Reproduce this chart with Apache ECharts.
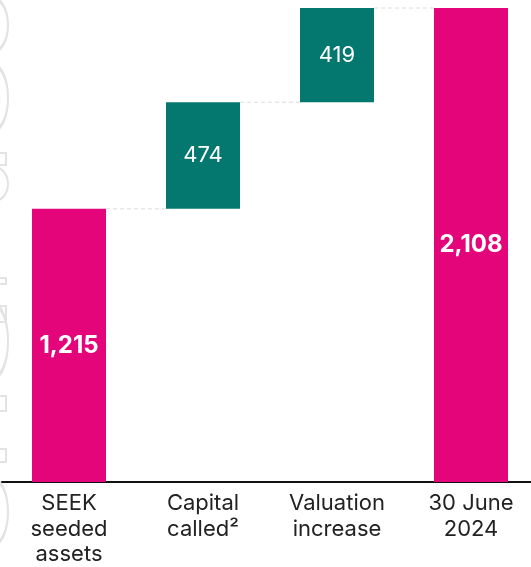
<!DOCTYPE html>
<html>
<head>
<meta charset="utf-8">
<script src="https://cdn.jsdelivr.net/npm/echarts@6/dist/echarts.min.js"></script>
<style>
  html, body { margin: 0; padding: 0; background: #fff; }
  #chart { width: 531px; height: 567px; }
</style>
</head>
<body>
<div id="chart"></div>
<script>
// data
const categories = ['SEEK\nseeded\nassets', 'Capital\ncalled²', 'Valuation\nincrease', '30 June\n2024'];
const values = [1215, 474, 419, 2108];
const kinds = ['total', 'delta', 'delta', 'total'];

const PINK = '#e5057b';
const TEAL = '#04776f';
const BAR_W = 74;

// work out the invisible base and the running level of each step
let running = 0;
const bases = [];
const levels = [];
values.forEach((v, i) => {
  if (kinds[i] === 'total') {
    bases.push(0);
    running = v;
  } else {
    bases.push(running);
    running += v;
  }
  levels.push(running);
});

const chart = echarts.init(document.getElementById('chart'));

// faint outline shapes on the left edge of the picture
function ghostRing(cy, ry) {
  return {
    type: 'circle', x: -6, y: cy, scaleX: 14 / ry,
    shape: { cx: 0, cy: 0, r: ry },
    style: { fill: 'none', stroke: '#e3e3e3', lineWidth: 2 * ry / 14 },
    silent: true, z: -1
  };
}
function ghostBox(y, h) {
  return {
    type: 'rect', x: -6, y: y,
    shape: { width: 12, height: h },
    style: { fill: 'none', stroke: '#e3e3e3', lineWidth: 2 },
    silent: true, z: -1
  };
}

const option = {
  animation: false,
  backgroundColor: '#fff',
  textStyle: { fontFamily: 'Inter' },
  graphic: [
    ghostRing(25, 26), ghostRing(98, 32), ghostRing(184, 17),
    ghostRing(341, 36), ghostRing(512, 32),
    ghostBox(153, 12), ghostBox(278, 6), ghostBox(306, 16),
    ghostBox(396, 15), ghostBox(449, 13)
  ],
  grid: { left: 2, width: 536, top: 8, bottom: 85, outerBoundsMode: 'none', containLabel: false },
  xAxis: {
    type: 'category',
    data: categories,
    axisLine: { lineStyle: { color: '#111', width: 2 } },
    axisTick: { show: false },
    axisLabel: {
      interval: 0,
      margin: 9,
      color: '#222',
      fontSize: 22,
      lineHeight: 25.5,
      fontFamily: 'Inter'
    }
  },
  yAxis: {
    type: 'value',
    min: 0,
    max: 2108,
    show: false,
    splitLine: { show: false }
  },
  series: [
    {
      name: 'base',
      type: 'bar',
      stack: 'wf',
      barWidth: BAR_W,
      silent: true,
      itemStyle: { color: 'transparent' },
      data: bases
    },
    {
      name: 'value',
      type: 'bar',
      stack: 'wf',
      barWidth: BAR_W,
      data: values.map((v, i) => ({
        value: v,
        itemStyle: { color: kinds[i] === 'total' ? PINK : TEAL },
        label: {
          fontWeight: kinds[i] === 'total' ? 'bold' : 'normal',
          fontSize: kinds[i] === 'total' ? 24 : 22
        }
      })),
      label: {
        show: true,
        position: 'inside',
        color: '#fff',
        fontFamily: 'Inter',
        formatter: p => p.value.toLocaleString('en-US')
      }
    },
    {
      name: 'connectors',
      type: 'custom',
      silent: true,
      z: 1,
      data: levels.slice(0, -1).map((lv, i) => [i, lv]),
      renderItem: function (params, api) {
        const p = api.coord([api.value(0), api.value(1)]);
        const band = api.size([1, 0])[0];
        return {
          type: 'line',
          shape: {
            x1: p[0] + BAR_W / 2, y1: p[1],
            x2: p[0] + band - BAR_W / 2, y2: p[1]
          },
          style: { stroke: '#dcdcdc', lineWidth: 1, lineDash: [4, 3] }
        };
      }
    }
  ]
};

chart.setOption(option);
</script>
</body>
</html>
